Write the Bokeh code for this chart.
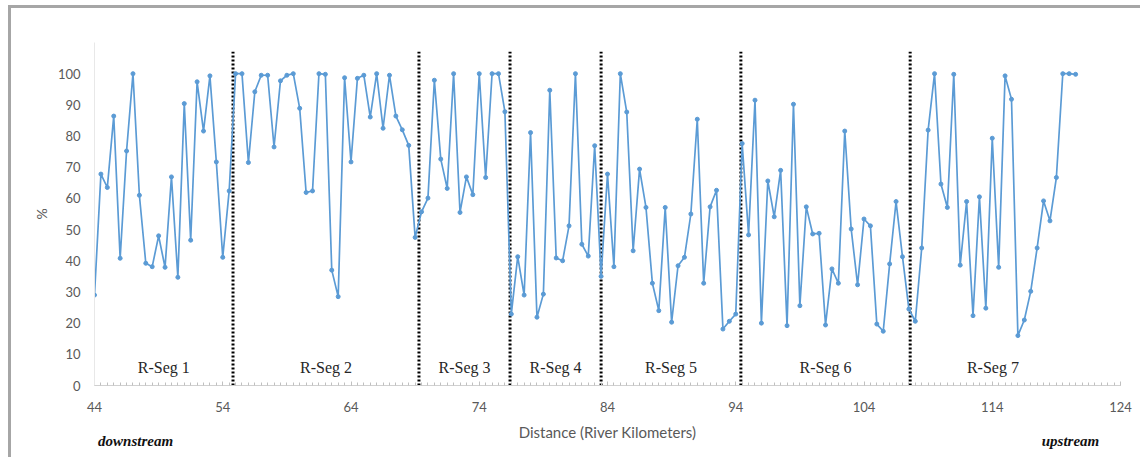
from bokeh.plotting import figure
from bokeh.models import FixedTicker, Label, ColumnDataSource, LinearAxis
from bokeh.embed import file_html
from bokeh.resources import INLINE

# ---- data ----
km = [44, 44.5, 45, 45.5, 46, 46.5, 47, 47.5, 48, 48.5, 49, 49.5, 50, 50.5, 51, 51.5,
      52, 52.5, 53, 53.5, 54, 54.5, 55, 55.5, 56, 56.5, 57, 57.5, 58, 58.5, 59, 59.5,
      60, 60.5, 61, 61.5, 62, 62.5, 63, 63.5, 64, 64.5, 65, 65.5, 66, 66.5, 67, 67.5,
      68, 68.5, 69, 69.5, 70, 70.5, 71, 71.5, 72, 72.5, 73, 73.5, 74, 74.5, 75, 75.5,
      76, 76.5, 77, 77.5, 78, 78.5, 79, 79.5, 80, 80.5, 81, 81.5, 82, 82.5, 83, 83.5,
      84, 84.5, 85, 85.5, 86, 86.5, 87, 87.5, 88, 88.5, 89, 89.5, 90, 90.5, 91, 91.5,
      92, 92.5, 93, 93.5, 94, 94.5, 95, 95.5, 96, 96.5, 97, 97.5, 98, 98.5, 99, 99.5,
      100, 100.5, 101, 101.5, 102, 102.5, 103, 103.5, 104, 104.5, 105, 105.5, 106, 106.5,
      107, 107.5, 108, 108.5, 109, 109.5, 110, 110.5, 111, 111.5, 112, 112.5, 113, 113.5,
      114, 114.5, 115, 115.5, 116, 116.5, 117, 117.5, 118, 118.5, 119, 119.5, 120, 120.5]

pct = [29, 67.8, 63.5, 86.4, 40.8, 75.2, 100, 61, 39.2, 38.1, 48, 37.9, 66.9, 34.7, 90.4, 46.6,
       97.4, 81.6, 99.3, 71.7, 41.1, 62.4, 100, 100, 71.5, 94.2, 99.5, 99.5, 76.5, 97.7, 99.5, 100,
       88.9, 61.9, 62.4, 100, 99.8, 37, 28.5, 98.7, 71.7, 98.5, 99.5, 86.1, 100, 82.5, 99.5, 86.4,
       82, 77, 47.5, 55.7, 60.1, 97.9, 72.6, 63.2, 100, 55.5, 66.9, 61.2, 100, 66.7, 100, 100,
       87.8, 22.9, 41.3, 29, 81.1, 21.9, 29.3, 94.7, 40.9, 40, 51.2, 100, 45.3, 41.5, 76.9, 35,
       67.8, 38.1, 100, 87.7, 43.2, 69.4, 57.1, 32.8, 24, 57.1, 20.3, 38.4, 41.1, 55, 85.4, 32.8,
       57.3, 62.6, 18.1, 20.6, 22.9, 77.6, 48.3, 91.5, 20, 65.6, 54.1, 69, 19.2, 90.2, 25.6, 57.3,
       48.6, 48.8, 19.4, 37.4, 32.8, 81.6, 50.2, 32.3, 53.4, 51.2, 19.7, 17.4, 39, 59,
       41.3, 24.5, 20.6, 44.1, 81.9, 100, 64.6, 57.1, 99.8, 38.6, 59, 22.4, 60.5, 24.8,
       79.3, 37.9, 99.3, 91.8, 16, 21, 30.2, 44.1, 59.2, 52.8, 66.7, 100, 100, 99.8]

seg_bounds = [54.8, 69.3, 76.4, 83.5, 94.4, 107.6]
seg_names = ["R-Seg 1", "R-Seg 2", "R-Seg 3", "R-Seg 4", "R-Seg 5", "R-Seg 6", "R-Seg 7"]
x_ticks = [44, 54, 64, 74, 84, 94, 104, 114, 124]
y_ticks = [0, 10, 20, 30, 40, 50, 60, 70, 80, 90, 100]
direction_labels = ["downstream", "upstream"]
direction_x = [47.2, 120.1]

x_start, x_end = 44, 124
y_start, y_end = 0, 110
seg_top = 107

BLUE = "#5b9bd5"
GRAY = "#595959"

p = figure(width=1132, height=452, output_backend="svg", toolbar_location=None,
           x_range=(x_start, x_end), y_range=(y_start, y_end),
           min_border_left=83, min_border_right=23, min_border_top=34, min_border_bottom=75,
           margin=(5, 0, 0, 8),
           styles={"border-top": "3px solid #a6a6a6", "border-left": "3px solid #a6a6a6"})
p.outline_line_color = None
p.xgrid.grid_line_color = None
p.ygrid.grid_line_color = None
p.background_fill_color = "white"
p.border_fill_color = "white"

# segment boundaries
p.segment(x0=seg_bounds, y0=[0] * len(seg_bounds), x1=seg_bounds, y1=[seg_top] * len(seg_bounds),
          line_color="black", line_width=3, line_dash="2 2")

src = ColumnDataSource(dict(x=km, y=pct))
p.line("x", "y", source=src, line_color=BLUE, line_width=1.7)
p.scatter("x", "y", source=src, size=4, color=BLUE, marker="circle")

# segment labels centred between boundaries
edges = [km[0]] + seg_bounds + [km[-1]]
for i, name in enumerate(seg_names):
    cx = (edges[i] + edges[i + 1]) / 2
    p.add_layout(Label(x=cx, y=5.8, text=name, text_align="center", text_baseline="middle",
                       text_font="Liberation Serif", text_font_size="16px", text_color="#262626"))

minor = [x_start + 0.5 * i for i in range(int((x_end - x_start) / 0.5) + 1)]
xa = p.xaxis[0]
xa.ticker = FixedTicker(ticks=x_ticks, minor_ticks=minor)
xa.axis_line_color = "#d0d0d0"
xa.major_tick_line_color = "#c0c0c0"
xa.minor_tick_line_color = "#c0c0c0"
xa.major_tick_in = 4
xa.major_tick_out = 0
xa.minor_tick_in = 3
xa.minor_tick_out = 0
xa.major_label_text_font = "Lato"
xa.major_label_text_font_size = "13px"
xa.major_label_text_color = GRAY
xa.major_label_standoff = 16
xa.axis_label = "Distance (River Kilometers)"
xa.axis_label_text_font = "Lato"
xa.axis_label_text_font_style = "normal"
xa.axis_label_text_font_size = "15px"
xa.axis_label_text_color = GRAY
xa.axis_label_standoff = 8

# second, label-only axis below carrying the downstream / upstream notes
da = LinearAxis(ticker=FixedTicker(ticks=direction_x),
                major_label_overrides={direction_x[0]: direction_labels[0],
                                       direction_x[1]: direction_labels[1]},
                axis_line_color=None, major_tick_line_color=None, minor_tick_line_color=None,
                major_label_standoff=-17,
                major_label_text_font="Liberation Serif",
                major_label_text_font_style="bold italic",
                major_label_text_font_size="15px",
                major_label_text_color="#111111")
p.add_layout(da, "below")

ya = p.yaxis[0]
ya.ticker = FixedTicker(ticks=y_ticks)
ya.axis_line_color = "#e8e8e8"
ya.major_tick_line_color = None
ya.minor_tick_line_color = None
ya.major_label_text_font = "Lato"
ya.major_label_text_font_size = "13px"
ya.major_label_text_color = GRAY
ya.major_label_standoff = 8
ya.axis_label = "%"
ya.axis_label_text_font = "Lato"
ya.axis_label_text_font_style = "normal"
ya.axis_label_text_font_size = "14px"
ya.axis_label_text_color = GRAY
ya.axis_label_standoff = 5

open("out.html", "w").write(file_html(p, INLINE))
